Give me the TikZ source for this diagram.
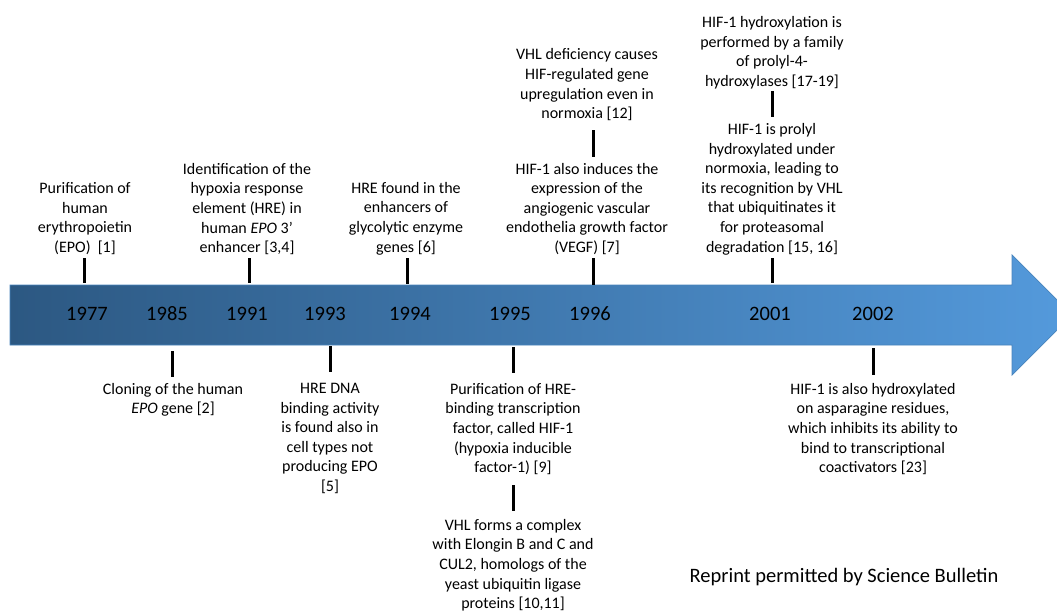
\documentclass[tikz,border=0pt]{standalone}
\usepackage{fontspec}
\setmainfont{Carlito}
\definecolor{arrL}{RGB}{44,88,130}
\definecolor{arrR}{RGB}{84,154,220}
\begin{document}
\begin{tikzpicture}[x=1pt,y=-1pt,
  txt/.style={font=\fontsize{16}{19.6}\selectfont, align=center, inner sep=0pt},
  yr/.style={font=\fontsize{20.5}{24}\selectfont, inner sep=0pt},
  tick/.style={line width=3pt, black}]
\useasboundingbox (0,0) rectangle (1057,613);
% arrow
\shade[left color=arrL, right color=arrR, draw=arrR!85!black, line width=0.7pt]
  (10,285) -- (1012,285) -- (1012,255) -- (1072,315) -- (1012,375) -- (1012,345) -- (10,345) -- cycle;
% years
\foreach \x/\y in {87/1977,167/1985,247/1991,325/1993,410/1994,510/1995,590/1996,770/2001,873/2002}
  \node[yr] (y\y) at (\x,314) {\y};
% top texts
\node[txt, anchor=south] (a1) at (85,255) {Purification of\\human\\erythropoietin\\(EPO)\ \ [1]};
\node[txt, anchor=south] (a2) at (247,255) {Identification of the\\hypoxia response\\element (HRE) in\\human \textit{EPO} 3’\\enhancer [3,4]};
\node[txt, anchor=south] (a3) at (406,255) {HRE found in the\\enhancers of\\glycolytic enzyme\\genes [6]};
\node[txt, anchor=south] (a4) at (587,255) {HIF-1 also induces the\\expression of the\\angiogenic vascular\\endothelia growth factor\\(VEGF) [7]};
\node[txt, anchor=south] (a5) at (587,121) {VHL deficiency causes\\HIF-regulated gene\\upregulation even in\\normoxia [12]};
\node[txt, anchor=south] (a6) at (772,89) {HIF-1 hydroxylation is\\performed by a family\\of prolyl-4-\\hydroxylases [17-19]};
\node[txt, anchor=south] (a7) at (772,255) {HIF-1 is prolyl\\hydroxylated under\\normoxia, leading to\\its recognition by VHL\\that ubiquitinates it\\for proteasomal\\degradation [15, 16]};
% bottom texts
\node[txt, anchor=north] (b1) at (173,383) {Cloning of the human\\\textit{EPO} gene [2]};
\node[txt, anchor=north] (b2) at (330,383) {HRE DNA\\binding activity\\is found also in\\cell types not\\producing EPO\\{[5]}};
\node[txt, anchor=north] (b3) at (513,383) {Purification of HRE-\\binding transcription\\factor, called HIF-1\\(hypoxia inducible\\factor-1) [9]};
\node[txt, anchor=north] (b4) at (513,519) {VHL forms a complex\\with Elongin B and C and\\CUL2, homologs of the\\yeast ubiquitin ligase\\proteins [10,11]};
\node[txt, anchor=north] (b5) at (873,383) {HIF-1 is also hydroxylated\\on asparagine residues,\\which inhibits its ability to\\bind to transcriptional\\coactivators [23]};
\node[font=\fontsize{20.5}{24}\selectfont, inner sep=0pt] (credit) at (844,577) {Reprint permitted by Science Bulletin};
% tick coordinates
\coordinate (t1a) at (84,258);  \coordinate (t1b) at (84,283);
\coordinate (t2a) at (249,258); \coordinate (t2b) at (249,283);
\coordinate (t3a) at (407,258); \coordinate (t3b) at (407,284);
\coordinate (t4a) at (593,258); \coordinate (t4b) at (593,285);
\coordinate (t5a) at (593,130); \coordinate (t5b) at (593,157);
\coordinate (t6a) at (772,91);  \coordinate (t6b) at (772,117);
\coordinate (t7a) at (772,258); \coordinate (t7b) at (772,283);
\coordinate (u1a) at (172,351); \coordinate (u1b) at (172,377);
\coordinate (u2a) at (330,346); \coordinate (u2b) at (330,372);
\coordinate (u3a) at (513,347); \coordinate (u3b) at (513,373);
\coordinate (u4a) at (513,485); \coordinate (u4b) at (513,511);
\coordinate (u5a) at (873,348); \coordinate (u5b) at (873,375);
\foreach \p in {t1,t2,t3,t4,t5,t6,t7,u1,u2,u3,u4,u5}
  \draw[tick] (\p a) -- (\p b);
\end{tikzpicture}
\end{document}
